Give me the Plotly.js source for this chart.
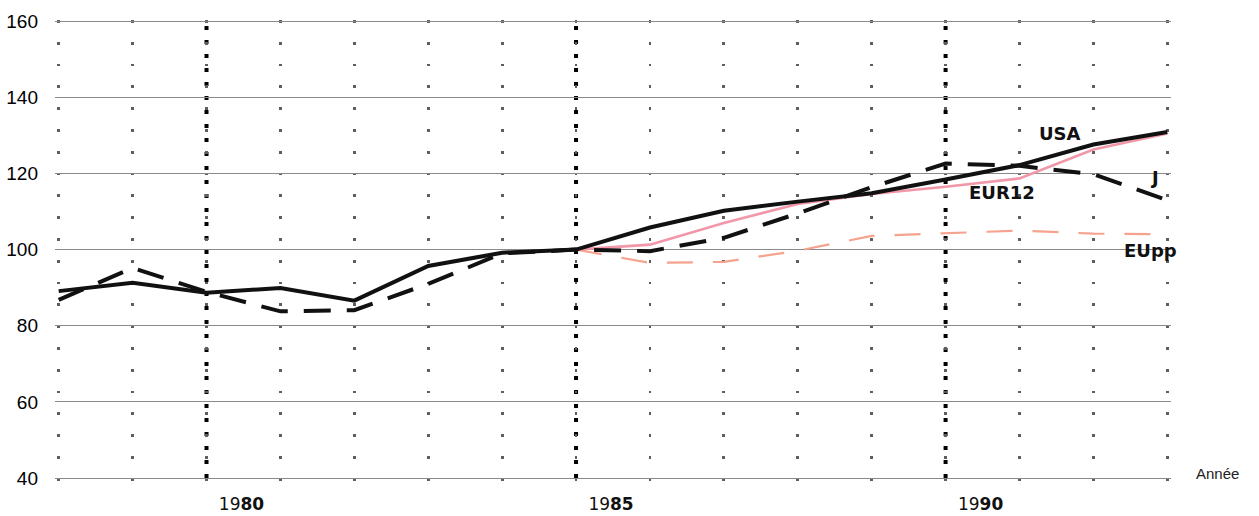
<!DOCTYPE html>
<html>
<head>
<meta charset="utf-8">
<script src="https://cdn.plot.ly/plotly-3.0.1.min.js"></script>
<style>html,body{margin:0;padding:0;background:#fff;}#chart{width:1259px;height:516px;}</style>
</head>
<body>
<div id="chart"></div>
<script>
// Data (index, 1985 = 100)
const yearsAll = [1978,1979,1980,1981,1982,1983,1984,1985,1986,1987,1988,1989,1990,1991,1992,1993];
const usa      = [89.1,91.3,88.7,89.9,86.6,95.7,99.2,100,105.8,110.2,112.6,114.8,118.4,122.2,127.6,130.9];
const japan    = [86.8,95.2,88.9,83.8,84.1,91.0,99.0,100,99.6,103.1,109.5,116.4,122.6,122.0,119.8,113.0];
const yearsEU  = [1985,1986,1987,1988,1989,1990,1991,1992,1993];
const eur12    = [100,101.3,107.0,112.0,114.6,116.5,118.7,126.3,130.5];
const eupp     = [100,96.5,96.8,99.7,103.6,104.4,105.0,104.2,104.0];
const yTicks   = [40,60,80,100,120,140,160];
const labelYears = {1980:'19<b>80</b>',1985:'19<b>85</b>',1990:'19<b>90</b>'};
const majorYears = [1980,1985,1990];

const traces = [
  {x: yearsEU, y: eupp, mode:'lines', line:{color:'#f5a38e', width:2.2, dash:'26px,20px'}, hoverinfo:'skip'},
  {x: yearsEU, y: eur12, mode:'lines', line:{color:'#f197a8', width:2.6}, hoverinfo:'skip'},
  {x: yearsAll, y: japan, mode:'lines', line:{color:'#111', width:4, dash:'27px,16px'}, hoverinfo:'skip'},
  {x: yearsAll, y: usa, mode:'lines', line:{color:'#111', width:4}, hoverinfo:'skip'}
];

const shapes = majorYears.map(yr => ({
  type:'line', xref:'x', yref:'y', x0:yr, x1:yr, y0:40, y1:160, layer:'below',
  line:{color:'#000', width:4, dash:'4px,10px'}
}));

const labelFont = {family:'DejaVu Sans', size:18, color:'#111', weight:'bold'};
const annotations = [
  {x:1991.55, y:130.6, text:'<b>USA</b>', showarrow:false, font:labelFont},
  {x:1992.82, y:118.9, text:'<b>J</b>', showarrow:false, font:labelFont},
  {x:1990.77, y:115.0, text:'<b>EUR12</b>', showarrow:false, font:labelFont},
  {x:1992.77, y:99.9, text:'<b>EUpp</b>', showarrow:false, font:labelFont},
  {xref:'paper', yref:'paper', x:1.042, y:0.032, xanchor:'center', yanchor:'middle',
   text:'Année', showarrow:false, font:{family:'Liberation Sans', size:15, color:'#222'}}
];

const layout = {
  width:1259, height:516,
  margin:{l:55, r:88, t:20, b:28},
  paper_bgcolor:'#fff', plot_bgcolor:'#fff',
  showlegend:false,
  xaxis:{
    range:[1977.95,1993.05],
    tickvals: yearsAll,
    ticktext: yearsAll.map(y => labelYears[y] || ''),
    showgrid:true, gridcolor:'#5e5e5e', gridwidth:2.8, griddash:'2.8px,19px',
    zeroline:false, showline:false, ticks:'',
    ticklabelshift:35, ticklabelstandoff:4,
    tickfont:{family:'DejaVu Sans', size:17, color:'#111'}
  },
  yaxis:{
    range:[37.4,160.3],
    tickvals: yTicks,
    showgrid:true, gridcolor:'#8a8a8a', gridwidth:1,
    zeroline:false, showline:false, ticks:'',
    ticklabelstandoff:16,
    tickfont:{family:'Liberation Sans', size:19, color:'#000'}
  },
  shapes: shapes,
  annotations: annotations
};

Plotly.newPlot('chart', traces, layout, {staticPlot:true, displayModeBar:false});
</script>
</body>
</html>
